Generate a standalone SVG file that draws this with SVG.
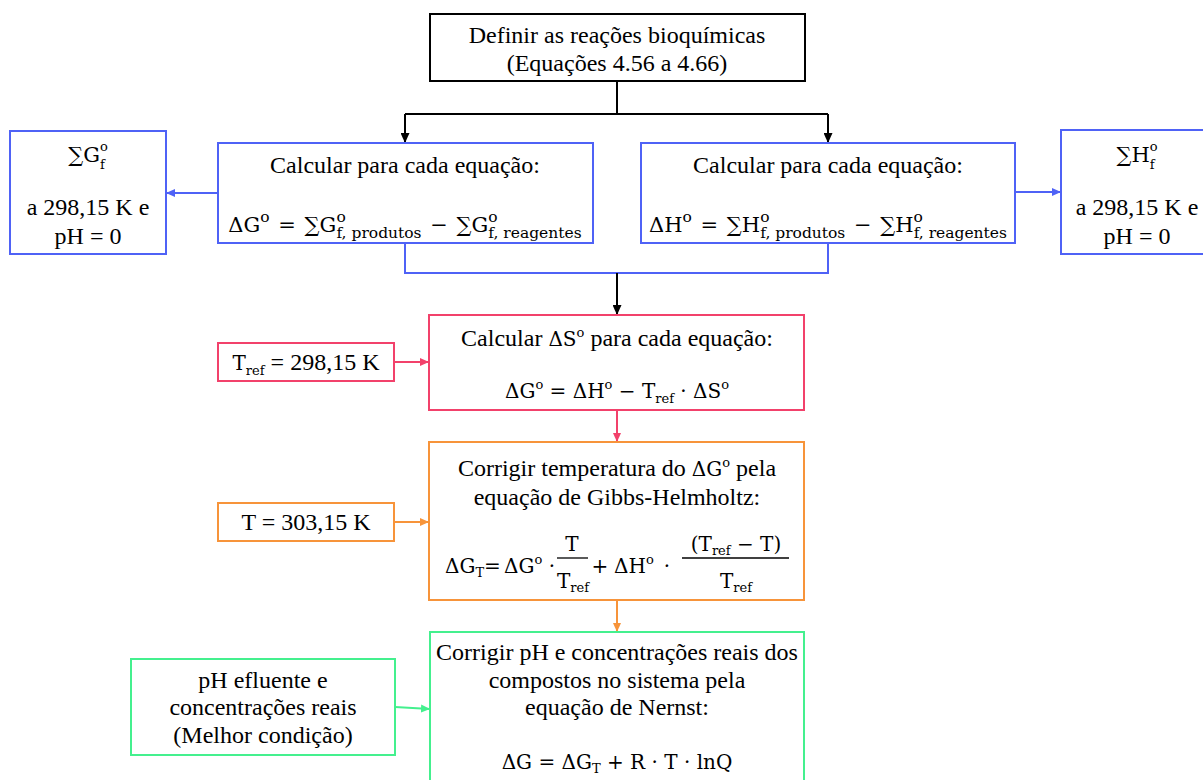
<svg xmlns="http://www.w3.org/2000/svg" width="1203" height="780" viewBox="0 0 1203 780">
<style>
.t{font-family:'Liberation Serif','Times New Roman',serif;font-size:24px;fill:#000;text-anchor:middle}
.m{font-family:'DejaVu Serif','Liberation Serif',serif;font-size:20px;fill:#000}
.s{font-size:13px}
.e{font-size:21px}
.e .s{font-size:15.5px}
.e .q{font-size:13px}
.box{fill:#fff;stroke-width:2}
.bk{stroke:#000}.bl{stroke:#4F62F6}.pk{stroke:#F2416B}.or{stroke:#F7943A}.gr{stroke:#44F08E}
.c{fill:none;stroke-width:2}
</style>
<defs>
<marker id="aK" markerUnits="userSpaceOnUse" markerWidth="10" markerHeight="9" viewBox="0 0 10 9" refX="10" refY="4.5" orient="auto"><path d="M0,0 L10,4.5 L0,9 z" fill="#000"/></marker>
<marker id="aB" markerUnits="userSpaceOnUse" markerWidth="9" markerHeight="8" viewBox="0 0 9 8" refX="9" refY="4" orient="auto"><path d="M0,0 L9,4 L0,8 z" fill="#4F62F6"/></marker>
<marker id="aP" markerUnits="userSpaceOnUse" markerWidth="9" markerHeight="8" viewBox="0 0 9 8" refX="9" refY="4" orient="auto"><path d="M0,0 L9,4 L0,8 z" fill="#F2416B"/></marker>
<marker id="aO" markerUnits="userSpaceOnUse" markerWidth="9" markerHeight="8" viewBox="0 0 9 8" refX="9" refY="4" orient="auto"><path d="M0,0 L9,4 L0,8 z" fill="#F7943A"/></marker>
<marker id="aG" markerUnits="userSpaceOnUse" markerWidth="9" markerHeight="8" viewBox="0 0 9 8" refX="9" refY="4" orient="auto"><path d="M0,0 L9,4 L0,8 z" fill="#44F08E"/></marker>
</defs>
<rect width="1203" height="780" fill="#fff"/>

<g id="connectors">
<path class="c bk" d="M617,81 V114 M405,114 H828"/>
<path class="c bk" d="M405,114 V143" marker-end="url(#aK)"/>
<path class="c bk" d="M828,114 V143" marker-end="url(#aK)"/>
<path class="c bl" d="M218,193 H166" marker-end="url(#aB)"/>
<path class="c bl" d="M1015,192 H1061" marker-end="url(#aB)"/>
<path class="c bl" d="M405,243 V273 H828 V243"/>
<path class="c bk" d="M617,273 V315" marker-end="url(#aK)"/>
<path class="c pk" d="M394,362 H429" marker-end="url(#aP)"/>
<path class="c pk" d="M617,410 V442" marker-end="url(#aP)"/>
<path class="c or" d="M394,522 H429" marker-end="url(#aO)"/>
<path class="c or" d="M617,600 V632" marker-end="url(#aO)"/>
<path class="c gr" d="M395,707 L430,709" marker-end="url(#aG)"/>
</g>

<g id="n-definir">
<rect class="box bk" x="430" y="14" width="375" height="67"/>
<text class="t" x="617" y="43">Definir as reações bioquímicas</text>
<text class="t" x="617" y="71">(Equações 4.56 a 4.66)</text>
</g>

<g id="n-gibbs">
<rect class="box bl" x="218" y="143" width="375" height="100"/>
<text class="t" x="405" y="173">Calcular para cada equação:</text>
<text class="m e" x="405" y="232" text-anchor="middle">ΔG<tspan class="s" dy="-10">o</tspan><tspan dx="2" dy="10"> = </tspan><tspan dx="2">∑G</tspan><tspan class="s" dy="-10">o</tspan><tspan class="s" dx="-9.3" dy="16">f, produtos</tspan><tspan dx="2" dy="-6"> − </tspan><tspan dx="2">∑G</tspan><tspan class="s" dy="-10">o</tspan><tspan class="s" dx="-9.3" dy="16">f, reagentes</tspan></text>
</g>

<g id="n-entalpia">
<rect class="box bl" x="641" y="143" width="374" height="100"/>
<text class="t" x="828" y="173">Calcular para cada equação:</text>
<text class="m e" x="828" y="232" text-anchor="middle">ΔH<tspan class="s" dy="-10">o</tspan><tspan dx="2" dy="10"> = </tspan><tspan dx="2">∑H</tspan><tspan class="s" dy="-10">o</tspan><tspan class="s" dx="-9.3" dy="16">f, produtos</tspan><tspan dx="2" dy="-6"> − </tspan><tspan dx="2">∑H</tspan><tspan class="s" dy="-10">o</tspan><tspan class="s" dx="-9.3" dy="16">f, reagentes</tspan></text>
</g>

<g id="n-sumG">
<rect class="box bl" x="10" y="131" width="156" height="123"/>
<text class="m e" x="88" y="162" text-anchor="middle">∑G<tspan class="q" dy="-11">o</tspan><tspan class="q" dx="-7.8" dy="18">f</tspan></text>
<text class="t" x="88" y="215">a 298,15 K e</text>
<text class="t" x="88" y="244">pH = 0</text>
</g>

<g id="n-sumH">
<rect class="box bl" x="1061" y="130" width="156" height="124"/>
<text class="m e" x="1137" y="162" text-anchor="middle">∑H<tspan class="q" dy="-11">o</tspan><tspan class="q" dx="-7.8" dy="18">f</tspan></text>
<text class="t" x="1137" y="215">a 298,15 K e</text>
<text class="t" x="1137" y="244">pH = 0</text>
</g>

<g id="n-entropia">
<rect class="box pk" x="429" y="315" width="375" height="95"/>
<text class="t" x="617" y="346">Calcular <tspan class="m">ΔS</tspan><tspan class="m s" dy="-9">o</tspan><tspan dy="9"> para cada equação:</tspan></text>
<text class="m" x="617" y="398" text-anchor="middle" font-size="19">ΔG<tspan class="s" dy="-9">o</tspan><tspan dy="9"> = ΔH</tspan><tspan class="s" dy="-9">o</tspan><tspan dy="9"> − T</tspan><tspan class="s" dy="5">ref</tspan><tspan dy="-5"> · ΔS</tspan><tspan class="s" dy="-9">o</tspan></text>
</g>

<g id="n-tref">
<rect class="box pk" x="218" y="343" width="176" height="38"/>
<text class="t" x="306" y="370"><tspan class="m">T</tspan><tspan class="m s" dy="5">ref</tspan><tspan dy="-5"> = 298,15 K</tspan></text>
</g>

<g id="n-temperatura">
<rect class="box or" x="429" y="442" width="375" height="158"/>
<text class="t" x="617" y="476">Corrigir temperatura do <tspan class="m">ΔG</tspan><tspan class="m s" dy="-9">o</tspan><tspan dy="9"> pela</tspan></text>
<text class="t" x="617" y="505">equação de Gibbs-Helmholtz:</text>
<text class="m" x="445" y="573">ΔG<tspan class="s" dy="4">T</tspan><tspan dy="-4">=</tspan></text>
<text class="m" x="504" y="573">ΔG<tspan class="s" dy="-9">o</tspan></text>
<text class="m" x="552" y="573" text-anchor="middle">·</text>
<text class="m" x="572" y="551" text-anchor="middle">T</text>
<line x1="557" y1="558" x2="588" y2="558" stroke="#000" stroke-width="1.3"/>
<text class="m" x="573" y="588" text-anchor="middle">T<tspan class="s" dy="4">ref</tspan></text>
<text class="m" x="600" y="573" text-anchor="middle">+</text>
<text class="m" x="614" y="573">ΔH<tspan class="s" dy="-9">o</tspan></text>
<text class="m" x="667" y="573" text-anchor="middle">·</text>
<text class="m" x="736" y="551" text-anchor="middle">(T<tspan class="s" dy="4">ref</tspan><tspan dy="-4"> − T)</tspan></text>
<line x1="682" y1="558" x2="789" y2="558" stroke="#000" stroke-width="1.3"/>
<text class="m" x="736" y="588" text-anchor="middle">T<tspan class="s" dy="4">ref</tspan></text>
</g>

<g id="n-t">
<rect class="box or" x="218" y="503" width="176" height="38"/>
<text class="t" x="306" y="530">T = 303,15 K</text>
</g>

<g id="n-nernst">
<rect class="box gr" x="430" y="632" width="374" height="160"/>
<text class="t" x="617" y="660">Corrigir pH e concentrações reais dos</text>
<text class="t" x="617" y="688">compostos no sistema pela</text>
<text class="t" x="617" y="715">equação de Nernst:</text>
<text class="m" x="617" y="769" text-anchor="middle">ΔG = ΔG<tspan class="s" dy="4">T</tspan><tspan dy="-4"> + R · T · lnQ</tspan></text>
</g>

<g id="n-ph">
<rect class="box gr" x="131" y="659" width="264" height="96"/>
<text class="t" x="263" y="688">pH efluente e</text>
<text class="t" x="263" y="715">concentrações reais</text>
<text class="t" x="263" y="743">(Melhor condição)</text>
</g>
</svg>
